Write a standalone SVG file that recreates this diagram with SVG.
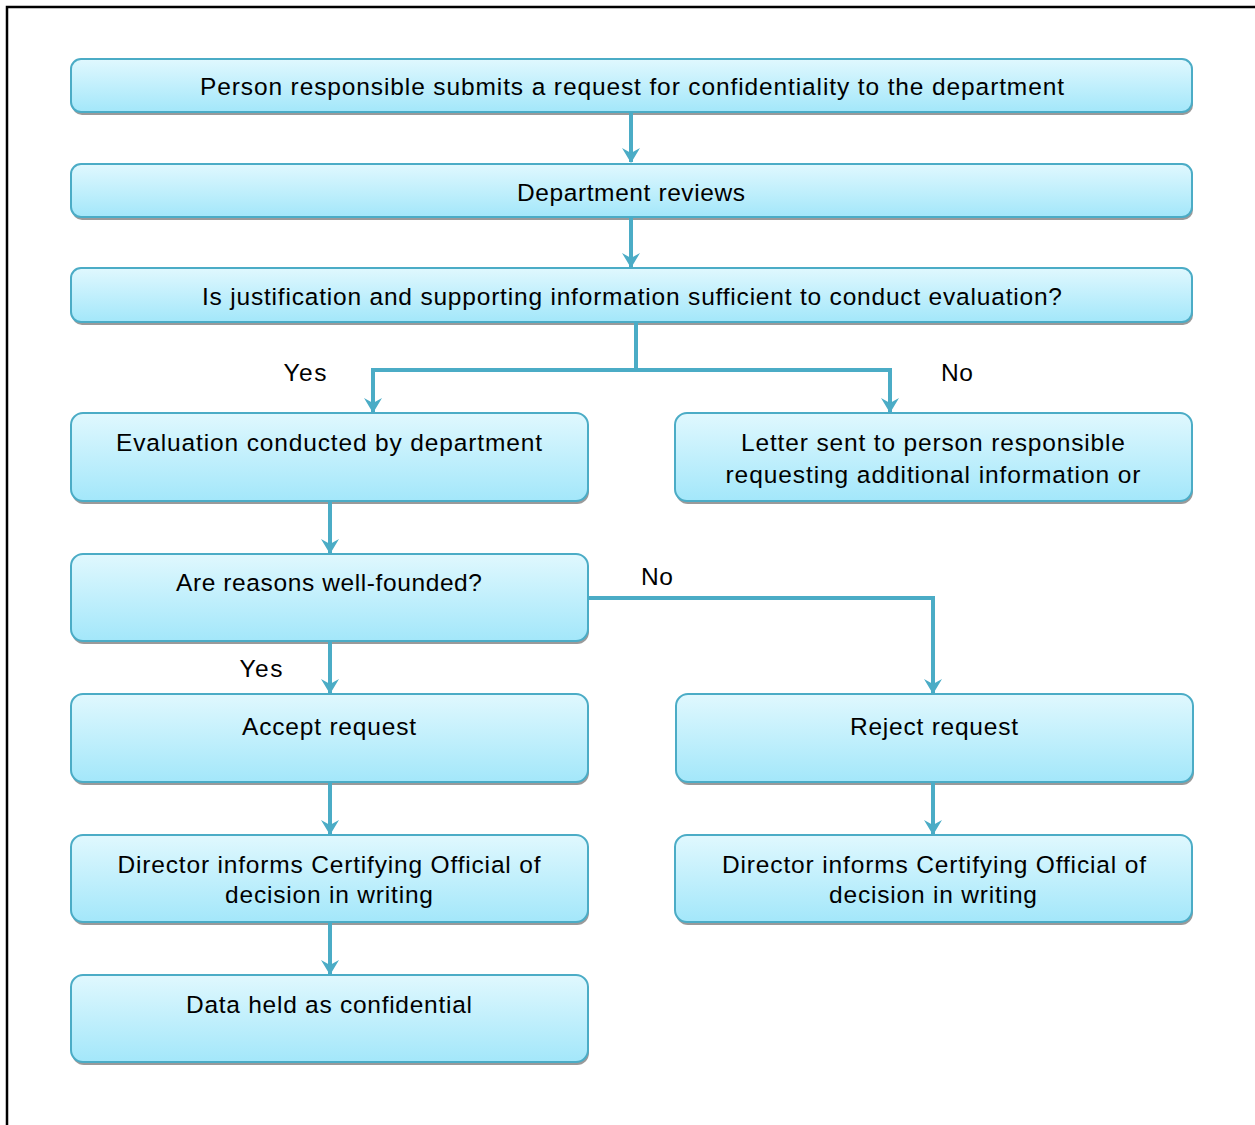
<svg xmlns="http://www.w3.org/2000/svg" width="1255" height="1125" viewBox="0 0 1255 1125">
<defs>
<linearGradient id="g" x1="0" y1="0" x2="0" y2="1">
<stop offset="0" stop-color="#E0F8FE"/>
<stop offset="1" stop-color="#A3E7FA"/>
</linearGradient>
<marker id="ah" viewBox="0 0 15 18" refX="14" refY="9" markerWidth="15" markerHeight="18" markerUnits="userSpaceOnUse" orient="auto">
<path d="M0,0 L15,9 L0,18 L5,9 Z" fill="#4BACC6"/>
</marker>
<style>
.box{fill:url(#g);stroke:#4BACC6;stroke-width:2}
.sh{fill:#9A9A9A}
.t{font-family:"Liberation Sans",Arial,sans-serif;font-size:24.5px;fill:#000;text-anchor:middle}
.c{fill:none;stroke:#4BACC6;stroke-width:4}
</style>
</defs>
<rect width="1255" height="1125" fill="#fff"/>
<path d="M7,1125 V7 H1255" fill="none" stroke="#000" stroke-width="2.5"/>
<g id="n1"><rect class="sh" x="72" y="62" width="1121" height="53" rx="10"/><rect class="box" x="71" y="59" width="1121" height="53" rx="10"/><text class="t" x="632" y="95" textLength="864" lengthAdjust="spacing">Person responsible submits a request for confidentiality to the department</text></g>
<g id="n2"><rect class="sh" x="72" y="167" width="1121" height="53" rx="10"/><rect class="box" x="71" y="164" width="1121" height="53" rx="10"/><text class="t" x="631" y="201" textLength="228" lengthAdjust="spacing">Department reviews</text></g>
<g id="n3"><rect class="sh" x="72" y="271" width="1121" height="54" rx="10"/><rect class="box" x="71" y="268" width="1121" height="54" rx="10"/><text class="t" x="632" y="305" textLength="860" lengthAdjust="spacing">Is justification and supporting information sufficient to conduct evaluation?</text></g>
<g id="n4"><rect class="sh" x="72" y="416" width="517" height="88" rx="12"/><rect class="box" x="71" y="413" width="517" height="88" rx="12"/><text class="t" x="329" y="451" textLength="426" lengthAdjust="spacing">Evaluation conducted by department</text></g>
<g id="n5"><rect class="sh" x="676" y="416" width="517" height="88" rx="12"/><rect class="box" x="675" y="413" width="517" height="88" rx="12"/><text class="t" x="933" y="451" textLength="384" lengthAdjust="spacing">Letter sent to person responsible</text><text class="t" x="933" y="483" textLength="415" lengthAdjust="spacing">requesting additional information or</text></g>
<g id="n6"><rect class="sh" x="72" y="557" width="517" height="87" rx="12"/><rect class="box" x="71" y="554" width="517" height="87" rx="12"/><text class="t" x="329" y="591" textLength="306" lengthAdjust="spacing">Are reasons well-founded?</text></g>
<g id="n7"><rect class="sh" x="72" y="697" width="517" height="88" rx="12"/><rect class="box" x="71" y="694" width="517" height="88" rx="12"/><text class="t" x="329" y="735" textLength="174" lengthAdjust="spacing">Accept request</text></g>
<g id="n8"><rect class="sh" x="677" y="697" width="517" height="88" rx="12"/><rect class="box" x="676" y="694" width="517" height="88" rx="12"/><text class="t" x="934" y="735" textLength="168" lengthAdjust="spacing">Reject request</text></g>
<g id="n9"><rect class="sh" x="72" y="838" width="517" height="87" rx="12"/><rect class="box" x="71" y="835" width="517" height="87" rx="12"/><text class="t" x="329" y="873" textLength="423" lengthAdjust="spacing">Director informs Certifying Official of</text><text class="t" x="329" y="903" textLength="208" lengthAdjust="spacing">decision in writing</text></g>
<g id="n10"><rect class="sh" x="676" y="838" width="517" height="87" rx="12"/><rect class="box" x="675" y="835" width="517" height="87" rx="12"/><text class="t" x="934" y="873" textLength="424" lengthAdjust="spacing">Director informs Certifying Official of</text><text class="t" x="933" y="903" textLength="208" lengthAdjust="spacing">decision in writing</text></g>
<g id="n11"><rect class="sh" x="72" y="978" width="517" height="87" rx="12"/><rect class="box" x="71" y="975" width="517" height="87" rx="12"/><text class="t" x="329" y="1013" textLength="286" lengthAdjust="spacing">Data held as confidential</text></g>
<g id="connectors">
<path class="c" d="M631,113 V162" marker-end="url(#ah)"/>
<path class="c" d="M631,218 V267" marker-end="url(#ah)"/>
<path class="c" d="M636,323 V370 M371,370 H892"/>
<path class="c" d="M373,368 V412" marker-end="url(#ah)"/>
<path class="c" d="M890,368 V412" marker-end="url(#ah)"/>
<path class="c" d="M330,502 V553" marker-end="url(#ah)"/>
<path class="c" d="M330,642 V693" marker-end="url(#ah)"/>
<path class="c" d="M589,598 H933 V693" marker-end="url(#ah)"/>
<path class="c" d="M330,783 V834" marker-end="url(#ah)"/>
<path class="c" d="M933,783 V834" marker-end="url(#ah)"/>
<path class="c" d="M330,923 V974" marker-end="url(#ah)"/>
</g>
<g id="labels">
<text class="t" x="305" y="381" textLength="43" lengthAdjust="spacing">Yes</text>
<text class="t" x="957" y="381" textLength="32" lengthAdjust="spacing">No</text>
<text class="t" x="657" y="585" textLength="32" lengthAdjust="spacing">No</text>
<text class="t" x="261" y="677" textLength="43" lengthAdjust="spacing">Yes</text>
</g>
</svg>
